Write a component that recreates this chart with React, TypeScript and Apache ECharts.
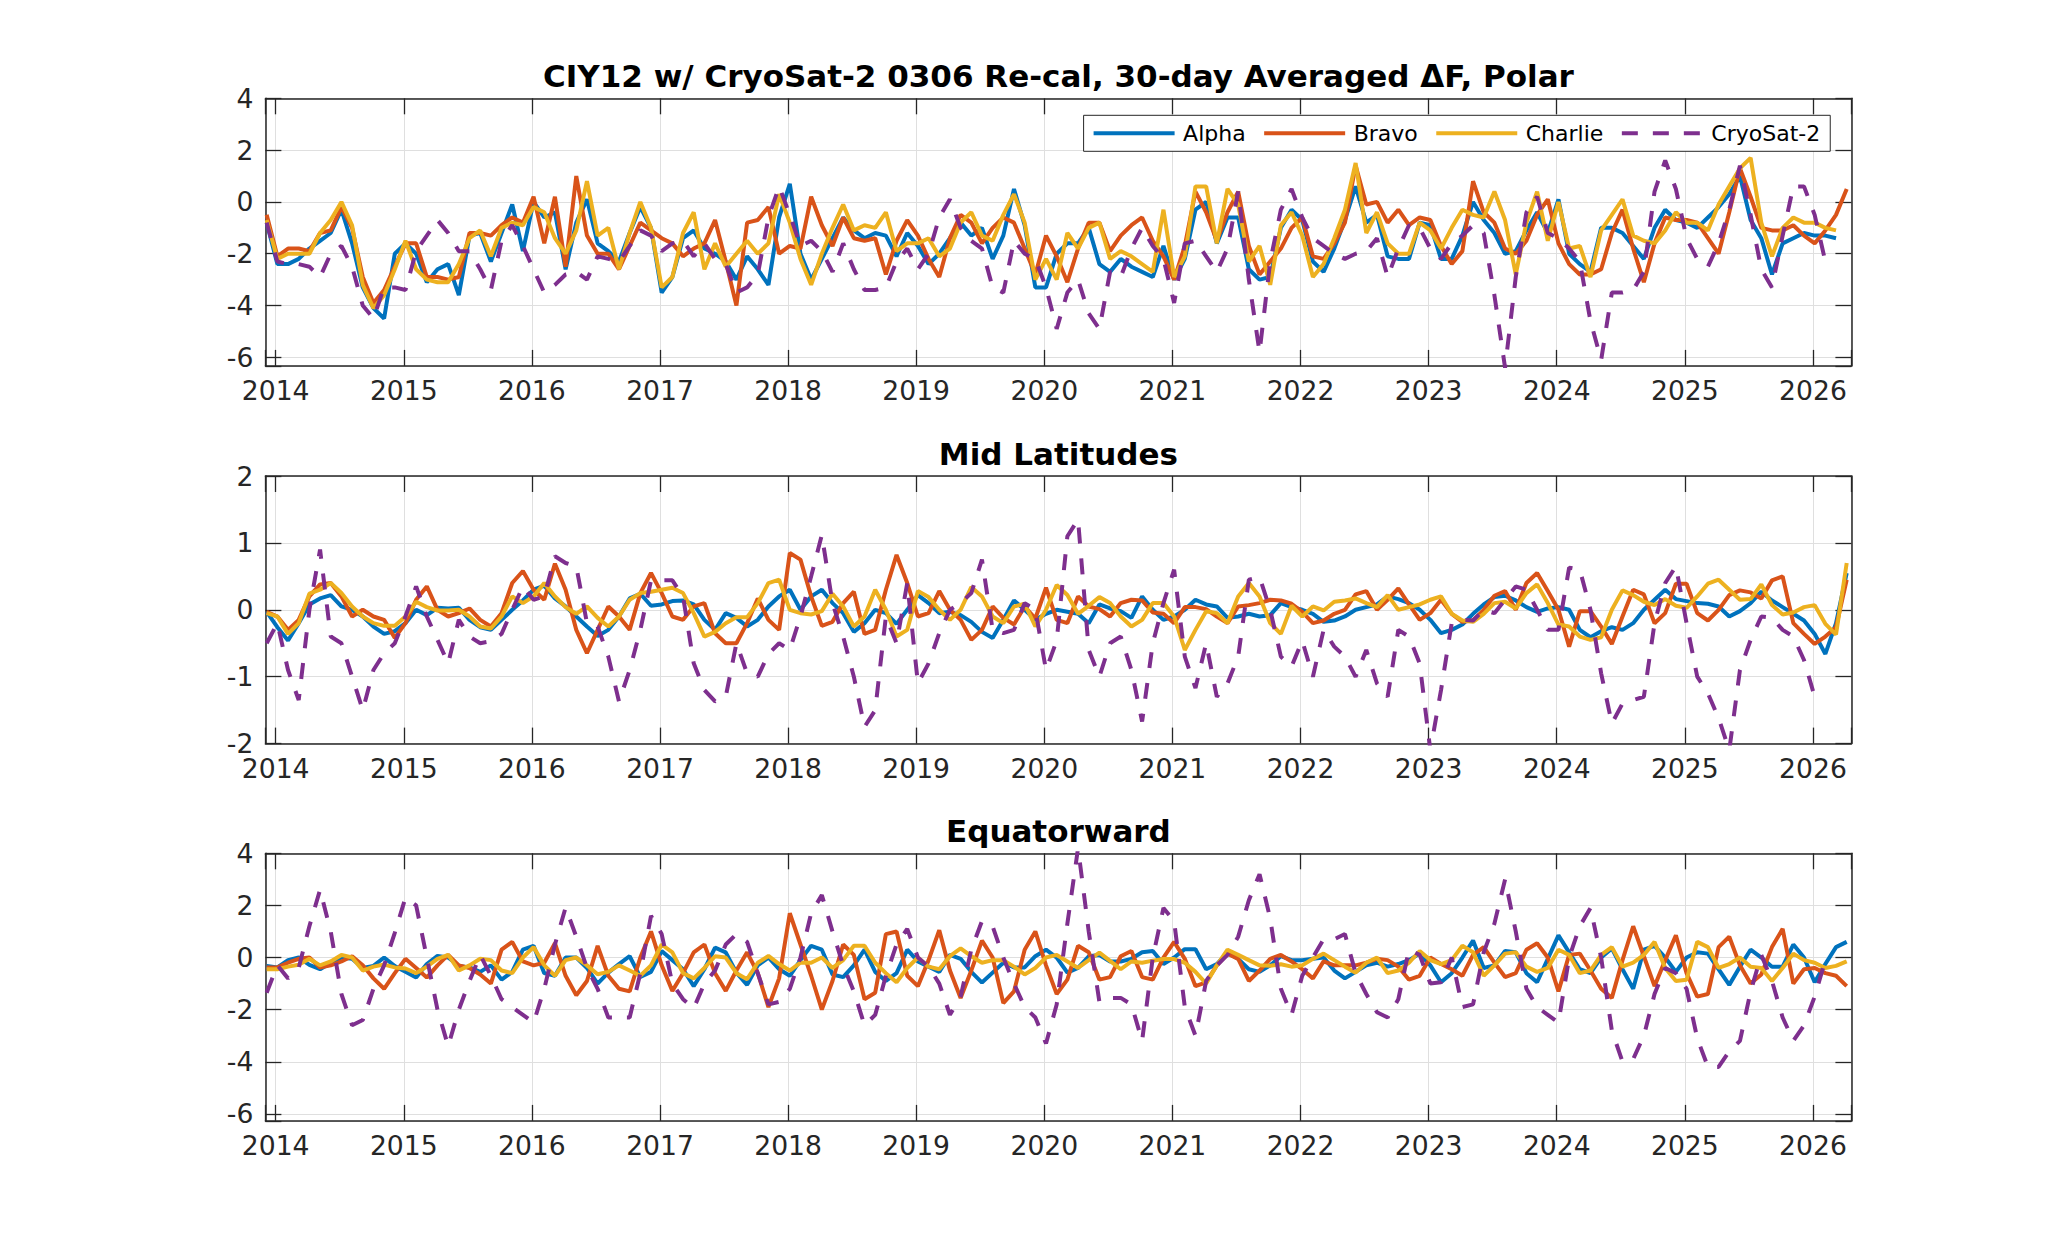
import React, { useEffect, useRef } from "react";
import * as echarts from "echarts";

// monthly samples, first one just right of the left frame
const START = 2013.93;
const STEP = 1 / 12;

const NAMES = ["Alpha", "Bravo", "Charlie", "CryoSat-2"];
const COLORS = ["#0072BD", "#D95319", "#EDB120", "#7E2F8E"];
const TITLES = [
  "CIY12 w/ CryoSat-2 0306 Re-cal, 30-day Averaged \u0394F, Polar",
  "Mid Latitudes",
  "Equatorward",
];

// ---- Polar ----
const polarAlpha = [
  -0.8, -2.4, -2.4, -2.2, -1.8, -1.5, -1.2, -0.3, -1.6, -3.3,
  -4.1, -4.5, -2.0, -1.6, -2.0, -3.1, -2.6, -2.4, -3.6, -1.3,
  -1.2, -2.3, -1.2, -0.1, -1.9, 0.0, -0.6, -0.4, -2.6, -0.8,
  0.1, -1.6, -1.9, -2.3, -1.2, -0.2, -1.0, -3.5, -2.9, -1.4,
  -1.1, -1.8, -2.0, -2.3, -3.0, -2.1, -2.6, -3.2, -0.6, 0.7,
  -2.0, -3.0, -2.2, -1.4, -0.6, -1.1, -1.4, -1.2, -1.3, -2.1,
  -1.2, -1.7, -2.4, -2.0, -1.4, -0.8, -1.3, -1.0, -2.2, -1.3,
  0.5, -0.9, -3.3, -3.3, -2.0, -1.6, -1.6, -1.0, -2.4, -2.7,
  -2.2, -2.5, -2.7, -2.9, -1.7, -3.0, -2.2, -0.3, 0.0, -1.6,
  -0.6, -0.6, -2.6, -3.0, -2.9, -1.0, -0.3, -0.7, -2.3, -2.7,
  -1.8, -0.7, 0.6, -0.8, -0.5, -2.1, -2.2, -2.2, -0.8, -0.9,
  -2.2, -2.2, -1.3, 0.0, -0.7, -1.2, -2.0, -1.9, -1.1, -0.4,
  -1.2, 0.1, -2.0, -2.4, -2.7, -1.0, -1.0, -1.2, -1.7, -2.2,
  -1.0, -0.3, -0.7, -0.8, -1.0, -0.6, -0.2, 0.3, 1.0, -0.7,
  -1.4, -2.8, -1.6, -1.4, -1.2, -1.3, -1.3, -1.4,
];
const polarBravo = [
  -0.5, -2.1, -1.8, -1.8, -1.9, -1.2, -1.1, -0.2, -1.0, -2.9,
  -3.9, -3.4, -2.5, -1.6, -1.6, -2.9, -2.9, -3.0, -2.9, -1.2,
  -1.2, -1.3, -0.9, -0.6, -0.8, 0.2, -1.6, 0.2, -2.5, 1.0,
  -1.3, -2.0, -2.0, -2.6, -1.7, -0.8, -1.1, -1.4, -1.6, -2.1,
  -1.8, -1.6, -0.7, -2.3, -4.0, -0.8, -0.7, -0.2, -2.0, -1.7,
  -1.8, 0.2, -0.9, -1.7, -0.6, -1.4, -1.5, -1.4, -2.8, -1.5,
  -0.7, -1.3, -2.2, -2.9, -1.4, -0.5, -0.8, -1.6, -1.0, -0.6,
  -0.8, -1.8, -2.8, -1.3, -2.1, -3.1, -1.8, -0.8, -0.8, -1.9,
  -1.3, -0.9, -0.6, -1.5, -2.1, -3.0, -1.7, 0.4, -0.4, -1.5,
  -0.4, 0.4, -1.7, -2.8, -2.3, -1.8, -1.0, -0.6, -2.1, -2.2,
  -1.6, -0.8, 1.4, -0.1, 0.0, -0.8, -0.3, -0.9, -0.6, -0.7,
  -1.7, -2.4, -1.9, 0.8, -0.4, -0.8, -1.8, -2.0, -1.5, -0.5,
  0.1, -1.6, -2.4, -2.8, -2.8, -2.6, -1.2, -0.3, -1.8, -3.1,
  -1.6, -0.6, -0.7, -0.7, -0.8, -1.4, -2.0, -0.4, 1.3, 0.2,
  -1.0, -1.1, -1.1, -0.9, -1.3, -1.6, -1.1, -0.5, 0.5,
];
const polarCharlie = [
  -0.7, -2.2, -2.0, -2.0, -2.0, -1.2, -0.7, 0.0, -0.9, -3.2,
  -4.1, -3.6, -2.6, -1.5, -2.6, -3.0, -3.1, -3.1, -2.4, -1.4,
  -1.1, -2.1, -1.0, -0.8, -0.9, -0.2, -0.4, -1.4, -2.0, -1.1,
  0.8, -1.3, -1.0, -2.6, -1.2, 0.0, -1.0, -3.3, -2.9, -1.2,
  -0.4, -2.6, -1.6, -2.5, -2.0, -1.5, -2.0, -1.6, 0.3, -0.8,
  -2.2, -3.2, -2.0, -1.0, -0.1, -1.1, -0.9, -1.0, -0.4, -1.9,
  -1.6, -1.6, -1.4, -2.1, -1.8, -0.8, -0.4, -1.3, -1.5, -0.5,
  0.3, -0.8, -3.0, -2.2, -3.0, -1.2, -1.8, -1.0, -0.8, -2.2,
  -1.9, -2.1, -2.4, -2.7, -0.3, -2.9, -2.1, 0.6, 0.6, -1.6,
  0.5, -0.1, -2.3, -1.7, -3.2, -0.9, -0.4, -1.3, -2.9, -2.4,
  -1.4, -0.3, 1.5, -1.2, -0.4, -1.6, -2.0, -2.0, -0.8, -1.1,
  -1.8, -1.0, -0.3, -0.5, -0.6, 0.4, -0.7, -2.8, -0.8, 0.4,
  -1.5, 0.0, -1.8, -1.7, -2.9, -1.1, -0.5, 0.1, -1.3, -1.5,
  -1.6, -1.1, -0.4, -0.8, -0.8, -1.1, -0.1, 0.6, 1.3, 1.7,
  -0.8, -2.1, -1.0, -0.6, -0.8, -0.8, -1.0, -1.1,
];
const polarCryo = [
  -0.8, -2.3, -2.4, -2.4, -2.5, -2.9, -2.0, -1.7, -2.5, -4.0,
  -4.5, -3.3, -3.3, -3.4, -1.9, -1.3, -0.7, -1.2, -1.9, -1.9,
  -2.6, -3.4, -1.5, -0.9, -1.7, -2.6, -3.5, -3.2, -2.8, -2.7,
  -3.0, -2.1, -2.2, -2.3, -1.7, -1.1, -1.3, -1.9, -1.6, -1.5,
  -2.1, -1.6, -2.2, -2.4, -3.5, -3.3, -2.8, -0.6, 0.6, -0.5,
  -1.7, -1.5, -1.9, -2.7, -1.6, -2.6, -3.4, -3.4, -3.3, -2.3,
  -1.8, -2.6, -2.0, -0.6, 0.1, -1.0, -1.5, -1.8, -3.3, -3.5,
  -1.5, -2.0, -2.2, -3.3, -4.9, -3.5, -3.0, -4.3, -4.9, -2.7,
  -2.9, -1.8, -1.0, -1.7, -2.2, -3.9, -1.6, -1.5, -2.1, -2.7,
  -1.8, 0.4, -3.0, -5.8, -2.3, -0.3, 0.5, -0.6, -1.4, -1.7,
  -2.0, -2.2, -2.0, -1.9, -1.4, -2.9, -1.8, -0.9, -1.0, -1.8,
  -2.2, -1.6, -1.3, -0.9, -1.2, -3.6, -6.4, -2.9, -0.4, 0.2,
  -1.2, -1.4, -1.8, -2.3, -4.6, -6.1, -3.5, -3.5, -3.4, -2.7,
  0.4, 1.6, 0.5, -1.4, -2.2, -2.5, -1.6, -0.3, 1.4, -0.5,
  -2.6, -3.3, -1.3, 0.6, 0.6, -0.5, -2.3,
];

// ---- Mid latitudes ----
const midAlpha = [
  -0.03, -0.26, -0.46, -0.2, 0.08, 0.17, 0.22, 0.05, 0.0, -0.1,
  -0.25, -0.36, -0.32, -0.2, 0.0, -0.08, 0.03, 0.02, 0.03, -0.15,
  -0.26, -0.3, -0.15, 0.0, 0.14, 0.3, 0.36, 0.17, 0.05, -0.1,
  -0.25, -0.39, -0.3, -0.1, 0.17, 0.24, 0.06, 0.08, 0.13, 0.14,
  0.08, -0.15, -0.3, -0.05, -0.12, -0.25, -0.15, 0.05, 0.2, 0.3,
  0.0, 0.2, 0.3, 0.1, -0.05, -0.33, -0.2, 0.0, -0.05, -0.21,
  0.0, 0.22, 0.1, -0.05, -0.03, -0.08, -0.18, -0.33, -0.42, -0.15,
  0.14, 0.0, -0.15, -0.06, 0.0, -0.03, -0.06, -0.2, 0.08, 0.02,
  -0.02, -0.12, 0.2, 0.0, -0.15, -0.1, 0.0, 0.15, 0.08, 0.05,
  -0.12, -0.1, -0.06, -0.1, -0.08, 0.1, 0.04, 0.0, -0.06, -0.18,
  -0.16, -0.1, 0.0, 0.04, 0.08, 0.2, 0.16, 0.1, 0.0, -0.15,
  -0.35, -0.3, -0.22, -0.06, 0.08, 0.19, 0.21, 0.14, 0.04, -0.03,
  0.02, 0.04, 0.0, -0.3, -0.41, -0.32, -0.26, -0.3, -0.2, 0.0,
  0.15, 0.3, 0.16, 0.13, 0.1, 0.09, 0.05, -0.1, -0.02, 0.1,
  0.27, 0.14, 0.04, -0.06, -0.16, -0.36, -0.66, -0.2, 0.55,
];
const midBravo = [
  -0.03, -0.1, -0.3, -0.15, 0.2, 0.38, 0.4, 0.2, -0.1, 0.0,
  -0.1, -0.15, -0.42, -0.2, 0.15, 0.35, 0.0, -0.1, -0.05, 0.02,
  -0.15, -0.25, -0.05, 0.4, 0.58, 0.3, 0.15, 0.69, 0.3, -0.3,
  -0.65, -0.3, 0.05, -0.1, -0.3, 0.25, 0.55, 0.25, -0.1, -0.15,
  0.05, 0.1, -0.35, -0.5, -0.5, -0.2, 0.17, -0.15, -0.3, 0.85,
  0.75, 0.2, -0.24, -0.18, 0.1, 0.27, -0.36, -0.3, 0.3, 0.82,
  0.4, -0.1, -0.05, 0.28, 0.0, -0.15, -0.45, -0.3, 0.05, -0.12,
  -0.22, 0.05, -0.13, 0.33, -0.15, -0.2, 0.2, 0.05, 0.01, -0.1,
  0.1, 0.15, 0.14, -0.04, -0.06, -0.2, 0.04, 0.04, 0.01, -0.1,
  -0.2, 0.05, 0.07, 0.1, 0.15, 0.14, 0.09, -0.03, -0.2, -0.16,
  -0.06, 0.0, 0.23, 0.28, 0.0, 0.15, 0.32, 0.08, -0.15, -0.05,
  0.15, -0.06, -0.18, -0.16, 0.0, 0.21, 0.28, 0.0, 0.4, 0.55,
  0.28, 0.0, -0.55, -0.02, -0.02, -0.25, -0.51, -0.1, 0.3, 0.23,
  -0.2, -0.05, 0.39, 0.39, -0.05, -0.16, 0.0, 0.22, 0.29, 0.26,
  0.17, 0.44, 0.5, -0.2, -0.36, -0.51, -0.4, -0.26, 0.45,
];
const midCharlie = [
  -0.05, -0.1, -0.36, -0.2, 0.24, 0.3, 0.4, 0.25, 0.05, -0.1,
  -0.2, -0.24, -0.24, -0.1, 0.12, 0.04, -0.01, -0.01, 0.0, -0.1,
  -0.25, -0.28, -0.1, 0.2, 0.1, 0.2, 0.4, 0.2, 0.04, -0.06,
  0.05, -0.12, -0.25, -0.1, 0.15, 0.25, 0.27, 0.3, 0.33, 0.25,
  -0.05, -0.4, -0.33, -0.2, -0.11, -0.11, 0.1, 0.4, 0.45, 0.0,
  -0.05, -0.07, -0.02, 0.24, 0.05, -0.25, -0.1, 0.3, 0.0, -0.4,
  -0.3, 0.28, 0.19, 0.0, -0.15, 0.0, 0.34, 0.2, -0.1, -0.2,
  0.05, 0.09, -0.25, 0.0, 0.37, 0.22, -0.06, 0.06, 0.19, 0.1,
  -0.1, -0.25, -0.15, 0.1, 0.1, -0.1, -0.6, -0.3, -0.02, -0.05,
  -0.2, 0.2, 0.4, 0.2, -0.2, -0.36, 0.06, -0.1, 0.05, -0.01,
  0.12, 0.14, 0.17, 0.1, 0.04, 0.22, 0.0, 0.04, 0.08, 0.15,
  0.2, -0.06, -0.16, -0.18, -0.06, 0.1, 0.12, 0.02, 0.25, 0.38,
  0.1, -0.22, -0.25, -0.4, -0.45, -0.41, 0.0, 0.29, 0.22, 0.12,
  0.07, 0.16, 0.06, 0.03, 0.2, 0.39, 0.45, 0.3, 0.15, 0.16,
  0.38, 0.07, -0.07, -0.04, 0.04, 0.07, -0.21, -0.37, 0.7,
];
const midCryo = [
  -0.5, -0.2, -0.9, -1.35, 0.0, 0.9, -0.4, -0.5, -1.0, -1.5,
  -0.9, -0.65, -0.5, -0.1, 0.35, -0.1, -0.45, -0.8, -0.15, -0.4,
  -0.5, -0.47, -0.36, 0.0, 0.35, 0.15, 0.2, 0.8, 0.7, 0.65,
  -0.2, -0.25, -0.7, -1.37, -0.9, -0.3, 0.44, 0.44, 0.44, 0.2,
  -0.8, -1.2, -1.37, -1.3, -0.5, -0.95, -1.0, -0.66, -0.5, -0.6,
  -0.1, 0.5, 1.12, 0.1, -0.4, -1.0, -1.75, -1.5, -0.1, -0.5,
  0.4, -1.1, -0.8, -0.35, 0.0, 0.1, 0.25, 0.75, -0.3, -0.35,
  -0.3, 0.1, 0.0, -0.9, -0.46, 1.1, 1.35, -0.6, -1.0, -0.5,
  -0.4, -0.9, -1.67, -0.5, 0.1, 0.6, -0.7, -1.17, -0.5, -1.3,
  -1.1, -0.7, 0.45, 0.49, 0.0, -0.7, -0.85, -0.46, -1.0, -0.3,
  -0.55, -0.7, -1.0, -0.6, -1.1, -1.3, -0.3, -0.4, -0.8, -2.1,
  -1.2, -0.2, -0.15, -0.16, 0.0, -0.05, 0.15, 0.35, 0.3, 0.0,
  -0.3, -0.3, 0.63, 0.6, 0.0, -0.95, -1.7, -1.4, -1.35, -1.3,
  -0.2, 0.4, 0.65, -0.2, -1.0, -1.25, -1.62, -2.1, -0.9, -0.45,
  -0.1, -0.12, -0.3, -0.4, -0.75, -1.3,
];

// ---- Equatorward ----
const eqAlpha = [
  -0.32, -0.38, -0.1, 0.0, -0.28, -0.45, -0.2, 0.0, -0.05, -0.4,
  -0.32, 0.0, -0.33, -0.55, -0.77, -0.25, 0.06, 0.0, -0.32, -0.38,
  -0.55, -0.3, -0.85, -0.55, 0.3, 0.45, -0.6, -0.7, 0.0, 0.0,
  -0.4, -1.0, -0.58, -0.25, 0.05, -0.75, -0.55, 0.25, -0.1, -0.45,
  -1.1, -0.45, 0.38, 0.2, -0.58, -1.05, -0.3, 0.0, -0.45, -0.7,
  -0.1, 0.45, 0.3, -0.65, -0.75, -0.3, 0.3, -0.55, -0.9, -0.6,
  0.3, -0.15, -0.35, -0.55, 0.1, -0.05, -0.55, -0.96, -0.58, -0.2,
  -0.38, -0.38, 0.05, 0.3, 0.0, -0.58, -0.4, 0.05, 0.1, -0.15,
  -0.15, -0.05, 0.2, 0.25, -0.25, 0.0, 0.32, 0.32, -0.45, -0.25,
  0.18, -0.05, -0.45, -0.55, -0.3, 0.05, -0.1, -0.1, -0.05, 0.0,
  -0.5, -0.8, -0.55, -0.3, -0.2, -0.35, -0.25, -0.1, 0.15, -0.3,
  -0.95, -0.6, 0.0, 0.65, -0.4, -0.3, 0.25, 0.2, -0.6, -0.95,
  -0.05, 0.85, 0.2, -0.45, -0.6, 0.0, 0.35, -0.45, -1.2, 0.3,
  0.45, 0.0, -0.55, 0.0, 0.2, 0.15, -0.45, -1.05, -0.35, 0.3,
  0.0, -0.35, -0.35, 0.5, 0.0, -0.95, -0.25, 0.4, 0.6,
];
const eqBravo = [
  -0.38, -0.38, -0.2, -0.05, 0.0, -0.38, -0.3, -0.15, 0.05, -0.3,
  -0.8, -1.2, -0.6, -0.05, -0.4, -0.77, -0.3, 0.1, -0.3, -0.4,
  -0.65, -1.0, 0.3, 0.6, -0.15, -0.3, -0.2, 0.55, -0.7, -1.45,
  -0.9, 0.45, -0.7, -1.2, -1.3, 0.0, 1.0, -0.3, -1.28, -0.6,
  0.2, 0.5, -0.6, -1.28, -0.5, 0.2, -0.6, -1.9, -0.8, 1.7,
  0.5, -0.7, -2.0, -0.9, 0.5, 0.1, -1.6, -1.35, 0.9, 1.0,
  -0.7, -1.1, -0.1, 1.05, -0.5, -1.55, -0.5, 0.65, 0.0, -1.75,
  -1.3, 0.3, 1.0, -0.3, -1.4, -0.85, 0.45, 0.2, -0.85, -0.75,
  0.05, 0.25, -0.75, -0.85, 0.0, 0.6, -0.05, -1.1, -0.95, -0.3,
  0.15, -0.05, -0.9, -0.5, -0.05, 0.1, -0.15, -0.45, -0.8, -0.15,
  -0.3, -0.3, -0.3, -0.2, -0.05, -0.1, -0.35, -0.85, -0.7, 0.0,
  -0.25, -0.45, -0.7, 0.1, 0.4, -0.2, -0.75, -0.6, 0.3, 0.55,
  0.0, -1.3, 0.1, 0.15, -0.5, -1.2, -1.55, -0.1, 1.2, 0.05,
  -1.1, -0.1, 0.85, -0.6, -1.5, -1.4, 0.4, 0.8, -0.3, -1.0,
  -0.65, 0.4, 1.1, -1.0, -0.45, -0.4, -0.6, -0.7, -1.1,
];
const eqCharlie = [
  -0.45, -0.45, -0.35, -0.28, -0.05, -0.3, -0.15, 0.1, 0.0, -0.5,
  -0.35, -0.27, -0.38, -0.42, -0.6, -0.35, -0.05, 0.1, -0.5, -0.3,
  -0.05, -0.1, -0.5, -0.6, 0.0, 0.4, -0.3, -0.7, -0.1, 0.0,
  -0.3, -0.64, -0.55, -0.3, -0.5, -0.7, -0.3, 0.5, 0.2, -0.6,
  -0.8, -0.4, 0.05, 0.0, -0.6, -0.83, -0.2, 0.06, -0.25, -0.5,
  -0.2, -0.2, 0.0, -0.4, -0.1, 0.45, 0.45, -0.2, -0.6, -0.95,
  -0.4, 0.0, -0.35, -0.45, 0.05, 0.35, 0.05, -0.2, -0.1, -0.1,
  -0.35, -0.65, -0.4, 0.0, 0.1, -0.15, -0.4, -0.1, 0.19, -0.13,
  -0.45, -0.15, -0.2, -0.12, -0.06, -0.06, -0.2, -0.55, -1.0, -0.3,
  0.3, 0.1, -0.1, -0.3, -0.32, -0.26, -0.35, -0.3, -0.05, 0.15,
  -0.1, -0.35, -0.58, -0.2, 0.0, -0.6, -0.5, -0.2, 0.25, -0.1,
  -0.25, -0.1, 0.45, 0.2, -0.7, -0.3, 0.15, 0.2, -0.35, -0.55,
  -0.4, 0.3, 0.1, -0.6, -0.5, 0.1, 0.4, -0.35, -0.2, 0.1,
  0.6, -0.4, -0.9, -0.85, 0.6, 0.4, -0.4, -0.25, 0.0, -0.35,
  -0.4, -0.9, -0.4, 0.15, -0.1, -0.2, -0.4, -0.32, -0.15,
];
const eqCryo = [
  -1.35, -0.3, -0.8, -0.4, 1.2, 2.6, 1.0, -1.4, -2.6, -2.4,
  -1.2, -0.3, 0.95, 2.3, 2.0, 0.0, -2.0, -3.4, -2.0, -0.9,
  0.1, -0.7, -1.6, -1.9, -2.2, -2.5, -1.2, 0.5, 1.92, 0.8,
  -0.4, -1.2, -2.3, -2.3, -2.3, -0.6, 1.6, 0.9, -1.0, -1.6,
  -1.95, -1.0, -0.5, 0.5, 0.9, 0.6, -0.6, -1.8, -1.7, -1.2,
  0.0, 1.7, 2.4, 1.0, -0.3, -1.3, -2.6, -2.2, -0.7, 0.5,
  1.1, 0.0, -0.35, -1.0, -2.2, -1.5, 0.3, 1.4, 1.2, 0.0,
  -1.0, -1.9, -2.3, -3.3, -1.8, 1.3, 4.2, 1.0, -1.7, -1.55,
  -1.55, -1.8, -3.2, 0.0, 1.9, 1.4, -1.9, -3.0, -0.9, -0.3,
  0.1, 0.8, 2.2, 3.2, 1.5, -1.2, -2.2, -0.7, 0.0, 0.7,
  0.7, 0.9, -0.6, -1.4, -2.1, -2.3, -1.6, 0.3, 0.1, -1.0,
  -0.95, 0.0, -1.9, -1.8, 0.2, 1.3, 3.0, 1.0, -1.2, -1.9,
  -2.2, -2.5, 0.0, 1.2, 1.9, 0.0, -2.8, -4.0, -3.9, -3.0,
  -1.4, -0.4, -0.6, -1.2, -3.1, -4.2, -4.2, -3.6, -3.2, -1.3,
  0.1, -0.9, -2.3, -3.2, -2.6, -1.5, -0.1,
];

const X_MIN = 2013.92;
const X_MAX = 2026.3;
const Y_RANGES = [
  { min: -6.33, max: 4, step: 2 },
  { min: -2, max: 2, step: 1 },
  { min: -6.27, max: 4, step: 2 },
];
const PANEL_DATA = [
  [polarAlpha, polarBravo, polarCharlie, polarCryo],
  [midAlpha, midBravo, midCharlie, midCryo],
  [eqAlpha, eqBravo, eqCharlie, eqCryo],
];

const GRID_LEFT = 265.4;
const GRID_WIDTH = 1586;
const GRID_HEIGHT = 267.6;
const GRID_TOPS = [98.3, 476, 853.3];

const FONT = "DejaVu Sans";
const AXIS_COLOR = "#262626";

const toPoints = (arr: number[]) => arr.map((v, i) => [START + i * STEP, v]);
const intLabel = (v: number) => (Math.abs(v - Math.round(v)) < 1e-6 ? String(Math.round(v)) : "");

function buildOption() {
  const grid = GRID_TOPS.map((top) => ({
    left: GRID_LEFT,
    top,
    width: GRID_WIDTH,
    height: GRID_HEIGHT,
    containLabel: false,
    outerBoundsMode: "none",
  }));

  const tick = { show: true, inside: true, length: 16, lineStyle: { color: AXIS_COLOR, width: 1.3 } };
  const line = { show: true, onZero: false, lineStyle: { color: AXIS_COLOR, width: 1.5 } };

  const xAxis: any[] = [];
  const yAxis: any[] = [];
  GRID_TOPS.forEach((_, g) => {
    xAxis.push({
      type: "value",
      gridIndex: g,
      min: X_MIN,
      max: X_MAX,
      minInterval: 1,
      maxInterval: 1,
      splitNumber: 12,
      axisLine: line,
      axisTick: tick,
      axisLabel: {
        show: true,
        margin: 11,
        fontFamily: FONT,
        fontSize: 26.6,
        color: AXIS_COLOR,
        formatter: intLabel,
      },
      splitLine: { show: true, lineStyle: { color: "#dfdfdf", width: 1 } },
    });
  });
  GRID_TOPS.forEach((_, g) => {
    xAxis.push({
      type: "value",
      gridIndex: g,
      position: "top",
      min: X_MIN,
      max: X_MAX,
      minInterval: 1,
      maxInterval: 1,
      splitNumber: 12,
      axisLine: line,
      axisTick: tick,
      axisLabel: { show: false },
      splitLine: { show: false },
    });
  });
  Y_RANGES.forEach((r, g) => {
    yAxis.push({
      type: "value",
      gridIndex: g,
      min: r.min,
      max: r.max,
      minInterval: r.step,
      maxInterval: r.step,
      axisLine: line,
      axisTick: tick,
      axisLabel: {
        show: true,
        margin: 12,
        fontFamily: FONT,
        fontSize: 26.6,
        color: AXIS_COLOR,
        formatter: intLabel,
      },
      splitLine: { show: true, lineStyle: { color: "#dfdfdf", width: 1 } },
    });
  });
  Y_RANGES.forEach((r, g) => {
    yAxis.push({
      type: "value",
      gridIndex: g,
      position: "right",
      min: r.min,
      max: r.max,
      minInterval: r.step,
      maxInterval: r.step,
      axisLine: line,
      axisTick: tick,
      axisLabel: { show: false },
      splitLine: { show: false },
    });
  });

  const series: any[] = [];
  PANEL_DATA.forEach((panel, g) => {
    panel.forEach((values, k) => {
      series.push({
        type: "line",
        name: NAMES[k],
        xAxisIndex: g,
        yAxisIndex: g,
        data: toPoints(values),
        symbol: "none",
        showSymbol: false,
        clip: true,
        lineStyle: {
          color: COLORS[k],
          width: 4,
          type: k === 3 ? [16, 15] : "solid",
        },
        itemStyle: { color: COLORS[k] },
        z: 2 + k,
      });
    });
  });

  const graphic = TITLES.map((text, g) => ({
    type: "text",
    x: GRID_LEFT + GRID_WIDTH / 2,
    y: GRID_TOPS[g] - 22,
    z: 100,
    style: {
      text,
      fill: "#000",
      font: `bold 31px "${FONT}"`,
      align: "center",
      verticalAlign: "middle",
    },
  }));

  return {
    animation: false,
    backgroundColor: "#ffffff",
    grid,
    xAxis,
    yAxis,
    series,
    graphic,
    legend: {
      data: NAMES,
      left: 1083.6,
      top: 115.3,
      orient: "horizontal",
      itemWidth: 81,
      itemHeight: 14,
      itemGap: 16.5,
      padding: [6, 10, 6, 8],
      borderColor: AXIS_COLOR,
      borderWidth: 1,
      backgroundColor: "#ffffff",
      z: 50,
      // plain line keys, no marker in the middle
      itemStyle: { opacity: 0 },
      lineStyle: { width: 4 },
      textStyle: {
        fontFamily: FONT,
        fontSize: 22,
        color: "#000",
        lineHeight: 24,
        padding: [0, 0, 0, 3.5],
      },
    },
  };
}

export default function App() {
  const chartRef = useRef<HTMLDivElement>(null);

  useEffect(() => {
    const chart = echarts.init(chartRef.current, null, { renderer: "svg" });
    chart.setOption(buildOption());
    return () => {
      chart.dispose();
    };
  }, []);

  return (
    <div
      ref={chartRef}
      style={{ position: "fixed", left: 0, top: 0, width: 2047, height: 1260, background: "#fff" }}
    />
  );
}
